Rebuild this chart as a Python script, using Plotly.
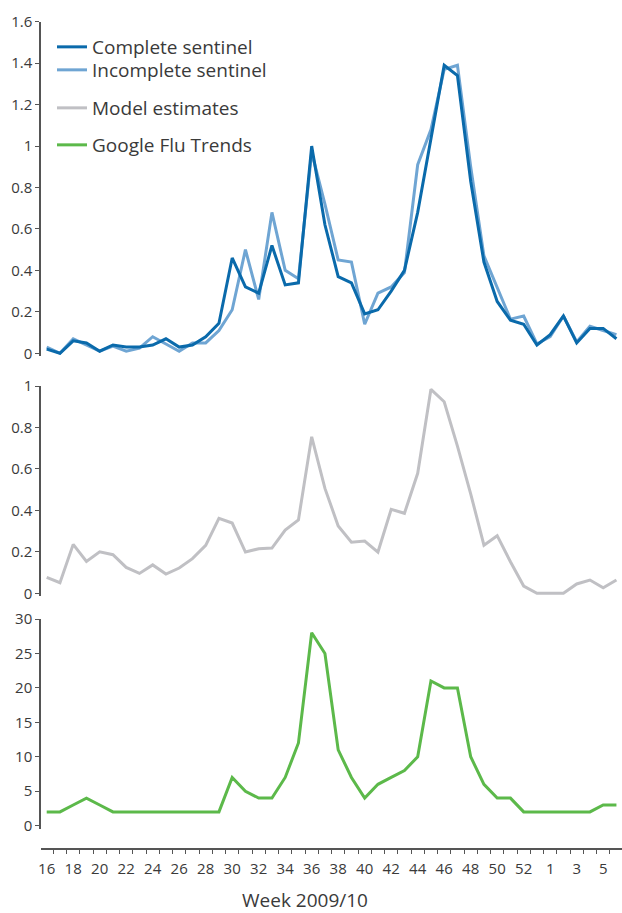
import plotly.graph_objects as go

weeks = [str(w) for w in range(16, 54)] + [str(w) for w in range(1, 7)]

complete_sentinel = [0.02, 0.00, 0.06, 0.05, 0.01, 0.04, 0.03, 0.03, 0.04, 0.07,
                     0.03, 0.04, 0.08, 0.145, 0.46, 0.32, 0.29, 0.52, 0.33, 0.34,
                     1.00, 0.62, 0.37, 0.34, 0.19, 0.21, 0.30, 0.40, 0.68, 1.04,
                     1.39, 1.34, 0.83, 0.44, 0.25, 0.16, 0.14, 0.04, 0.09, 0.18,
                     0.05, 0.12, 0.12, 0.07]
incomplete_sentinel = [0.03, 0.00, 0.07, 0.04, 0.01, 0.035, 0.01, 0.025, 0.08, 0.045,
                       0.01, 0.05, 0.05, 0.11, 0.21, 0.50, 0.26, 0.68, 0.40, 0.36,
                       0.97, 0.72, 0.45, 0.44, 0.14, 0.29, 0.32, 0.39, 0.91, 1.08,
                       1.37, 1.39, 0.90, 0.47, 0.32, 0.165, 0.18, 0.045, 0.08, 0.18,
                       0.055, 0.13, 0.11, 0.09]
model_estimates = [0.077, 0.051, 0.236, 0.154, 0.20, 0.186, 0.125, 0.096, 0.137, 0.093,
                   0.122, 0.167, 0.231, 0.362, 0.339, 0.199, 0.215, 0.218, 0.305, 0.354,
                   0.755, 0.506, 0.325, 0.246, 0.252, 0.199, 0.405, 0.386, 0.579, 0.984,
                   0.924, 0.71, 0.48, 0.232, 0.278, 0.152, 0.035, 0.0, 0.0, 0.0,
                   0.045, 0.064, 0.027, 0.064]
google_flu = [2, 2, 3, 4, 3, 2, 2, 2, 2, 2,
              2, 2, 2, 2, 7, 5, 4, 4, 7, 12,
              28, 25, 11, 7, 4, 6, 7, 8, 10, 21,
              20, 20, 10, 6, 4, 4, 2, 2, 2, 2,
              2, 2, 3, 3]

y1_ticks = [0, 0.2, 0.4, 0.6, 0.8, 1, 1.2, 1.4, 1.6]
y2_ticks = [0, 0.2, 0.4, 0.6, 0.8, 1]
y3_ticks = [0, 5, 10, 15, 20, 25, 30]

x = list(range(len(weeks)))

C_DARK = "#0a6aab"
C_LIGHT = "#6fa5d3"
C_GREY = "#c0c0c4"
C_GREEN = "#5cb94a"
TXT = "#3a3a3a"
AX = "#555555"
FONT = "Open Sans"

H = 913
def py(p):
    return (H - p) / H

fig = go.Figure()
fig.add_trace(go.Scatter(x=x, y=incomplete_sentinel, mode="lines", name="Incomplete sentinel",
                         line=dict(color=C_LIGHT, width=3), yaxis="y", legend="legend2",
                         showlegend=True))
fig.add_trace(go.Scatter(x=x, y=complete_sentinel, mode="lines", name="Complete sentinel",
                         line=dict(color=C_DARK, width=3), yaxis="y", legend="legend",
                         showlegend=True))
fig.add_trace(go.Scatter(x=x, y=model_estimates, mode="lines", name="Model estimates",
                         line=dict(color=C_GREY, width=3), yaxis="y2", legend="legend3",
                         showlegend=True))
fig.add_trace(go.Scatter(x=x, y=google_flu, mode="lines", name="Google Flu Trends",
                         line=dict(color=C_GREEN, width=3), yaxis="y3", legend="legend4",
                         showlegend=True))

yax_common = dict(showline=True, linecolor=AX, linewidth=1.5, ticks="outside", ticklen=4,
                  tickcolor=AX, tickwidth=1, showgrid=False, zeroline=False, anchor="x",
                  tickfont=dict(family=FONT, size=15, color=TXT))

lab_idx = x[::2]
lab_txt = weeks[::2]

fig.update_layout(
    width=622, height=913,
    showlegend=True,
    margin=dict(l=41, r=0, t=0, b=0, autoexpand=False),
    plot_bgcolor="white", paper_bgcolor="white",
    font=dict(family=FONT, color=TXT),
    xaxis=dict(range=[-0.43, 43.42], anchor="free", position=py(849), showline=True,
               linecolor=AX, linewidth=1.5, showgrid=False, zeroline=False,
               tickmode="array", tickvals=lab_idx, ticktext=lab_txt,
               ticks="outside", ticklen=6, tickcolor="rgba(0,0,0,0)",
               tickfont=dict(family=FONT, size=15, color=TXT),
               minor=dict(tickmode="array", tickvals=[i + 0.5 for i in x[:-1]],
                          ticks="outside", ticklen=4, tickcolor=AX, tickwidth=1)),
    yaxis=dict(domain=[py(356.4), py(21.7)], range=[-0.015, 1.6], tickvals=y1_ticks,
               ticktext=[f"{v:g}" for v in y1_ticks], **yax_common),
    yaxis2=dict(domain=[py(596.4), py(386)], range=[-0.015, 1.0], tickvals=y2_ticks,
                ticktext=[f"{v:g}" for v in y2_ticks], **yax_common),
    yaxis3=dict(domain=[py(829.1), py(619)], range=[-0.5, 30], tickvals=y3_ticks,
                **yax_common),
    annotations=[dict(text="Week 2009/10", x=(304.5 - 41) / 581, y=py(915), xref="paper",
                      yref="paper", showarrow=False, xanchor="center", yanchor="bottom",
                      font=dict(family=FONT, size=19, color=TXT))],
)

leg_common = dict(xanchor="left", yanchor="middle", bgcolor="rgba(0,0,0,0)",
                  font=dict(family=FONT, size=19, color=TXT), x=(52 - 41) / 581)
fig.update_layout(
    legend=dict(y=py(47), **leg_common),
    legend2=dict(y=py(70), **leg_common),
    legend3=dict(y=py(108), **leg_common),
    legend4=dict(y=py(145), **leg_common),
)

fig.write_html("out.html", config={"displayModeBar": False},
               post_script="document.body.style.margin='0';")
